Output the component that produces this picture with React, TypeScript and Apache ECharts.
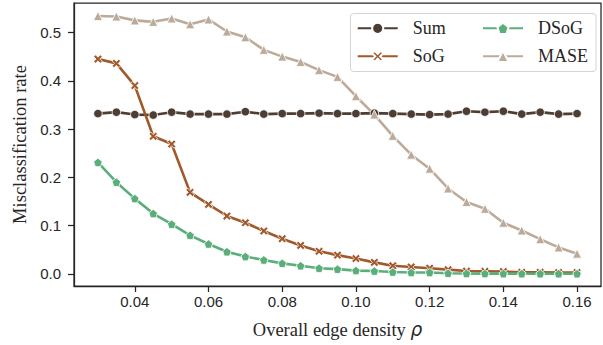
import React, { useEffect, useRef } from "react";
import * as echarts from "echarts";

const densities = [0.030, 0.035, 0.040, 0.045, 0.050, 0.055, 0.060, 0.065, 0.070, 0.075, 0.080, 0.085, 0.090, 0.095, 0.100, 0.105, 0.110, 0.115, 0.120, 0.125, 0.130, 0.135, 0.140, 0.145, 0.150, 0.155, 0.160];

const sumRates = [0.332, 0.335, 0.330, 0.329, 0.335, 0.331, 0.331, 0.331, 0.336, 0.331, 0.332, 0.332, 0.333, 0.332, 0.332, 0.333, 0.332, 0.331, 0.330, 0.331, 0.337, 0.335, 0.337, 0.331, 0.335, 0.331, 0.332];
const sogRates = [0.445, 0.436, 0.390, 0.285, 0.269, 0.169, 0.144, 0.120, 0.106, 0.089, 0.073, 0.059, 0.047, 0.039, 0.032, 0.024, 0.017, 0.0145, 0.012, 0.009, 0.006, 0.0055, 0.005, 0.0035, 0.0035, 0.003, 0.003];
const dsogRates = [0.231, 0.190, 0.156, 0.125, 0.103, 0.080, 0.062, 0.046, 0.036, 0.029, 0.022, 0.017, 0.012, 0.010, 0.007, 0.006, 0.004, 0.003, 0.003, 0.0015, 0.001, 0.0008, 0.0007, 0.0006, 0.0006, 0.0005, 0.0005];
const maseRates = [0.534, 0.533, 0.525, 0.522, 0.529, 0.517, 0.527, 0.502, 0.490, 0.464, 0.450, 0.439, 0.422, 0.408, 0.368, 0.330, 0.286, 0.247, 0.218, 0.177, 0.149, 0.135, 0.106, 0.090, 0.072, 0.055, 0.042];

const xTicks = [0.04, 0.06, 0.08, 0.10, 0.12, 0.14, 0.16];
const yTicks = [0.0, 0.1, 0.2, 0.3, 0.4, 0.5];

const COLORS = { Sum: "#4e3d33", SoG: "#a0592b", DSoG: "#5aae7a", MASE: "#bcaa9b" };

const X_SYMBOL = "path://M2.2,0 L5,2.8 L7.8,0 L10,2.2 L7.2,5 L10,7.8 L7.8,10 L5,7.2 L2.2,10 L0,7.8 L2.8,5 L0,2.2 Z";
const PENTAGON = "path://M5,0 L10,3.8 L8.1,9.5 L1.9,9.5 L0,3.8 Z";

const AXIS_COLOR = "#262626";

function pairs(vals: number[]) {
  return densities.map((d, i) => [d, vals[i]]);
}

export default function App() {
  const ref = useRef<HTMLDivElement>(null);
  useEffect(() => {
    if (!ref.current) return;
    const chart = echarts.init(ref.current, undefined, { renderer: "svg" });
    const mkSeries = (name: string, vals: number[], symbol: string, size: number) => ({
      name,
      type: "line",
      data: pairs(vals),
      symbol,
      symbolSize: size,
      showSymbol: true,
      lineStyle: { color: (COLORS as any)[name], width: 2.6 },
      itemStyle: { color: (COLORS as any)[name], borderColor: "#ffffff", borderWidth: 0.8 },
      z: 3,
    });
    const legendCommon = {
      orient: "vertical",
      itemWidth: 40,
      itemHeight: 14,
      itemGap: 10,
      padding: 0,
      textStyle: {
        fontFamily: "Liberation Serif",
        fontSize: 18,
        lineHeight: 16,
        color: "#262626",
        padding: [0, 0, 0, 10],
      },
    };
    chart.setOption({
      animation: false,
      backgroundColor: "#ffffff",
      grid: {
        left: 74,
        top: 3,
        right: 2,
        bottom: 59,
        show: true,
        borderColor: AXIS_COLOR,
        borderWidth: 1.25,
      },
      graphic: [
        {
          type: "rect",
          z: 10,
          shape: { x: 350.5, y: 13.5, width: 245.5, height: 58, r: 3 },
          style: { fill: "rgba(255,255,255,0.85)", stroke: "#d4d4d4", lineWidth: 1 },
        },
      ],
      legend: [
        { ...legendCommon, data: ["Sum", "SoG"], left: 356.7, top: 19.3, z: 20 },
        { ...legendCommon, data: ["DSoG", "MASE"], left: 482, top: 19.3, z: 20 },
      ],
      xAxis: {
        type: "value",
        min: 0.0235,
        max: 0.1665,
        name: "Overall edge density {it|ρ}",
        nameLocation: "middle",
        nameGap: 34,
        nameTextStyle: {
          fontFamily: "Liberation Serif",
          fontSize: 18.5,
          color: "#262626",
          rich: {
            it: { fontFamily: "DejaVu Sans", fontStyle: "italic", fontSize: 18.5, color: "#262626" },
          },
        },
        axisLine: { show: true, onZero: false, lineStyle: { color: AXIS_COLOR, width: 1.25 } },
        axisTick: { show: true, inside: false, length: 6, customValues: xTicks, lineStyle: { color: AXIS_COLOR, width: 1.25 } },
        axisLabel: {
          customValues: xTicks,
          formatter: (v: number) => v.toFixed(2),
          fontFamily: "Liberation Sans",
          fontSize: 15,
          color: "#262626",
          margin: 8,
        },
        splitLine: { show: false },
      },
      yAxis: {
        type: "value",
        min: -0.0249,
        max: 0.561,
        name: "Misclassification rate",
        nameLocation: "middle",
        nameGap: 37,
        nameTextStyle: { fontFamily: "Liberation Serif", fontSize: 18.5, color: "#262626" },
        axisLine: { show: true, onZero: false, lineStyle: { color: AXIS_COLOR, width: 1.25 } },
        axisTick: { show: true, inside: false, length: 6, customValues: yTicks, lineStyle: { color: AXIS_COLOR, width: 1.25 } },
        axisLabel: {
          customValues: yTicks,
          formatter: (v: number) => v.toFixed(1),
          fontFamily: "Liberation Sans",
          fontSize: 15,
          color: "#262626",
          margin: 13,
        },
        splitLine: { show: false },
      },
      series: [
        mkSeries("Sum", sumRates, "circle", 8.5),
        mkSeries("SoG", sogRates, X_SYMBOL, 8.5),
        mkSeries("DSoG", dsogRates, PENTAGON, 8.5),
        mkSeries("MASE", maseRates, "triangle", 9),
      ],
    });
    return () => chart.dispose();
  }, []);
  return <div ref={ref} style={{ width: 603, height: 345, position: "absolute", left: 0, top: 0 }} />;
}
